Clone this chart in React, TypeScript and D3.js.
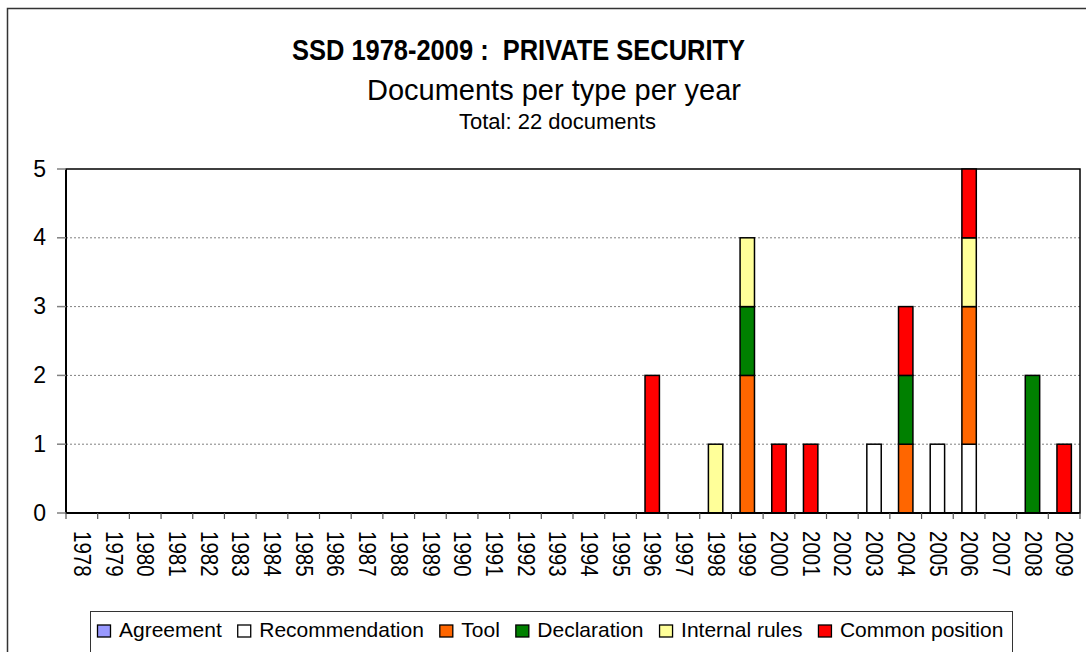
import React from "react";
import * as d3 from "d3";

const years = [
  "1978","1979","1980","1981","1982","1983","1984","1985","1986","1987","1988",
  "1989","1990","1991","1992","1993","1994","1995","1996","1997","1998","1999",
  "2000","2001","2002","2003","2004","2005","2006","2007","2008","2009",
];

const agreement =      [0,0,0,0,0,0,0,0,0,0,0,0,0,0,0,0,0,0,0,0,0,0,0,0,0,0,0,0,0,0,0,0];
const recommendation = [0,0,0,0,0,0,0,0,0,0,0,0,0,0,0,0,0,0,0,0,0,0,0,0,0,1,0,1,1,0,0,0];
const tool =           [0,0,0,0,0,0,0,0,0,0,0,0,0,0,0,0,0,0,0,0,0,2,0,0,0,0,1,0,2,0,0,0];
const declaration =    [0,0,0,0,0,0,0,0,0,0,0,0,0,0,0,0,0,0,0,0,0,1,0,0,0,0,1,0,0,0,2,0];
const internalRules =  [0,0,0,0,0,0,0,0,0,0,0,0,0,0,0,0,0,0,0,0,1,1,0,0,0,0,0,0,1,0,0,0];
const commonPosition = [0,0,0,0,0,0,0,0,0,0,0,0,0,0,0,0,0,0,2,0,0,0,1,1,0,0,1,0,1,0,0,1];

const seriesNames = ["Agreement","Recommendation","Tool","Declaration","Internal rules","Common position"];
const seriesColors = ["#9999FF","#FFFFFF","#FF6600","#008000","#FFFF99","#FF0000"];
const seriesValues = [agreement, recommendation, tool, declaration, internalRules, commonPosition];
const yTicks = [0,1,2,3,4,5];

const title = "SSD 1978-2009 :  PRIVATE SECURITY";
const subtitle = "Documents per type per year";
const totalLine = "Total: 22 documents";

const FONT = "'Liberation Sans', Arial, Helvetica, sans-serif";

function measure(text: string, size: number) {
  const c = document.createElement("canvas").getContext("2d");
  if (!c) return text.length * size * 0.5;
  c.font = `${size}px ${FONT}`;
  return c.measureText(text).width;
}

export default function App() {
  const W = 1086, H = 652;
  const left = 66, right = 1080, top = 169, bottom = 513;

  const x = d3.scaleBand<string>().domain(years).range([left, right]).padding(0);
  const y = d3.scaleLinear().domain([0, 5]).range([bottom, top]);
  const step = x.step();
  const barW = step / 2.2;

  const table = years.map((yr, i) => {
    const row: any = { year: yr };
    seriesNames.forEach((n, k) => (row[n] = seriesValues[k][i]));
    return row;
  });
  const stacked = d3.stack<any>().keys(seriesNames)(table);

  // legend layout
  const legFont = 21;
  const legBase = 636.5;
  let cursor = 97.5;
  const legendItems = seriesNames.map((n, k) => {
    const item = { name: n, color: seriesColors[k], mx: cursor, tx: cursor + 21.5 };
    cursor = item.tx + measure(n, legFont) + 16;
    return item;
  });

  return (
    <svg width={W} height={H} style={{ position: "absolute", left: 0, top: 0, background: "#fff" }}
      fontFamily={FONT}>
      <rect x={0} y={0} width={W} height={H} fill="#fff" />
      <rect x={7.5} y={8.5} width={1200} height={800} fill="none" stroke="#333" strokeWidth={1.5} />

      <text x={292} y={60} fontSize={30} fontWeight="bold" textLength={453} lengthAdjust="spacingAndGlyphs"
        style={{ whiteSpace: "pre" }}>{title}</text>
      <text x={367} y={100} fontSize={29}>{subtitle}</text>
      <text x={459} y={129} fontSize={22}>{totalLine}</text>

      {/* gridlines */}
      {yTicks.filter(t => t > 0 && t < 5).map(t => (
        <line key={t} x1={left} x2={right} y1={y(t)} y2={y(t)} stroke="#808080" strokeWidth={1} strokeDasharray="2,2" />
      ))}
      {/* plot border */}
      <rect x={left} y={top} width={right - left} height={bottom - top} fill="none" stroke="#000" strokeWidth={1.5} />

      {/* bars */}
      {stacked.map((s, k) => (
        <g key={s.key} fill={seriesColors[k]} stroke="#000" strokeWidth={1.5}>
          {s.map((d, i) => d[1] - d[0] > 0 ? (
            <rect key={i} x={(x(years[i]) as number) + step / 2 - barW / 2} y={y(d[1])}
              width={barW} height={y(d[0]) - y(d[1])} />
          ) : null)}
        </g>
      ))}

      {/* axes */}
      <line x1={left} x2={left} y1={top} y2={bottom} stroke="#000" strokeWidth={2} />
      <line x1={left} x2={right} y1={bottom} y2={bottom} stroke="#000" strokeWidth={2} />
      {yTicks.map(t => (
        <g key={t}>
          <line x1={57} x2={left} y1={y(t)} y2={y(t)} stroke="#808080" strokeWidth={1.5} />
          <text x={46} y={y(t) + 7.5} textAnchor="end" fontSize={23}>{t}</text>
        </g>
      ))}
      {d3.range(years.length + 1).map(i => (
        <line key={i} x1={left + i * step} x2={left + i * step} y1={bottom} y2={bottom + 6} stroke="#555" strokeWidth={1.2} />
      ))}
      {years.map(yr => {
        const cx = (x(yr) as number) + step / 2 + 1;
        return (
          <text key={yr} transform={`translate(${cx},${531}) rotate(90) scale(1,1.2)`} dy="0.36em" fontSize={20.5}>{yr}</text>
        );
      })}

      {/* legend */}
      <rect x={90.5} y={611.5} width={922} height={80} fill="#fff" stroke="#333" strokeWidth={1} />
      {legendItems.map(it => (
        <g key={it.name}>
          <rect x={it.mx} y={625} width={13} height={12} fill={it.color} stroke="#000" strokeWidth={1.3} />
          <text x={it.tx} y={legBase} fontSize={legFont}>{it.name}</text>
        </g>
      ))}
    </svg>
  );
}
